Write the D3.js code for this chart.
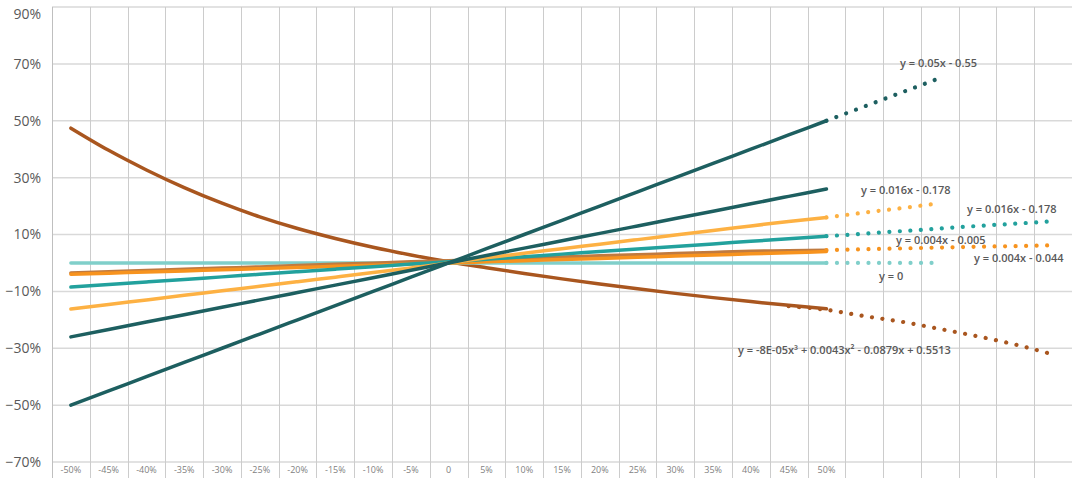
<!DOCTYPE html>
<html>
<head>
<meta charset="utf-8">
<script src="https://cdnjs.cloudflare.com/ajax/libs/d3/7.8.5/d3.min.js"></script>
<style>
	html, body { margin: 0; padding: 0; background: #fff; }
	svg { display: block; }
	.ylab { font-family: "Open Sans", sans-serif; font-size: 14px; fill: #595959; }
	.xlab { font-family: "Open Sans", sans-serif; font-size: 9px; fill: #7f7f7f; }
	.eq { font-family: "Open Sans", sans-serif; font-size: 11px; font-weight: 600; fill: #595959; }
</style>
</head>
<body>
<div id="chart"></div>
<script>
'use strict';

// categories shown on the axis, then 6 empty slots used by the forecasts
var xLabels = ["-50%", "-45%", "-40%", "-35%", "-30%", "-25%", "-20%", "-15%", "-10%", "-5%", "0",
	"5%", "10%", "15%", "20%", "25%", "30%", "35%", "40%", "45%", "50%"];
var forecastSlots = 6;

var yTicks = [-0.7, -0.5, -0.3, -0.1, 0.1, 0.3, 0.5, 0.7, 0.9];

// series values (category 1..21)
var brown = [0.474, 0.396, 0.327, 0.265, 0.210, 0.162, 0.121, 0.086, 0.055, 0.028, 0.004,
	-0.017, -0.037, -0.056, -0.074, -0.091, -0.107, -0.122, -0.136, -0.149, -0.161];
var lightTeal = [0, 0, 0, 0, 0, 0, 0, 0, 0, 0, 0, 0, 0, 0, 0, 0, 0, 0, 0, 0, 0];
var brownOrange = [-0.035, -0.031, -0.027, -0.022, -0.018, -0.014, -0.009, -0.005, -0.001, 0.004, 0.008,
	0.012, 0.017, 0.021, 0.025, 0.029, 0.033, 0.037, 0.041, 0.043, 0.045];
var orange = [-0.04, -0.036, -0.032, -0.028, -0.024, -0.02, -0.016, -0.012, -0.008, -0.004, 0,
	0.004, 0.008, 0.012, 0.016, 0.02, 0.024, 0.028, 0.032, 0.036, 0.04];
var teal = [-0.085, -0.076, -0.067, -0.058, -0.049, -0.04, -0.031, -0.022, -0.013, -0.004, 0.004,
	0.013, 0.022, 0.031, 0.04, 0.049, 0.058, 0.067, 0.076, 0.085, 0.094];
var lightOrange = [-0.162, -0.146, -0.13, -0.114, -0.098, -0.082, -0.066, -0.05, -0.034, -0.018, 0,
	0.018, 0.034, 0.05, 0.066, 0.082, 0.098, 0.114, 0.13, 0.146, 0.16];
var darkTeal2 = [-0.26, -0.234, -0.208, -0.182, -0.156, -0.13, -0.104, -0.078, -0.052, -0.026, 0,
	0.026, 0.052, 0.078, 0.104, 0.13, 0.156, 0.182, 0.208, 0.234, 0.26];
var darkTeal = [-0.5, -0.45, -0.4, -0.35, -0.3, -0.25, -0.2, -0.15, -0.1, -0.05, 0,
	0.05, 0.1, 0.15, 0.2, 0.25, 0.3, 0.35, 0.4, 0.45, 0.5];

// trendline tails (dotted), first value sits on category trendStart
var brownTrendStart = 20;
var brownTrend = [-0.152, -0.165, -0.187, -0.207, -0.232, -0.258, -0.287, -0.322];
var darkTealTrend = [0.5, 0.55, 0.6, 0.65];
var lightOrangeTrend = [0.16, 0.177, 0.193, 0.21];
var lightTealTrend = [0, 0, 0, 0];
var tealTrend = [0.094, 0.103, 0.112, 0.121, 0.13, 0.138, 0.147];
var orangeTrend = [0.045, 0.048, 0.051, 0.054, 0.057, 0.059, 0.062];

var equations = ["y = 0.05x - 0.55", "y = 0.016x - 0.178", "y = 0.016x - 0.178",
	"y = 0.004x - 0.005", "y = 0.004x - 0.044", "y = 0",
	"y = -8E-05x\u00B3 + 0.0043x\u00B2 - 0.0879x + 0.5513"];

(function(){

	var W = 1079, H = 478;
	var left = 52, right = 1072, top = 7, bottom = 462;

	var svg = d3.select("#chart").append("svg")
		.attr("width", W)
		.attr("height", H);

	var nCats = xLabels.length + forecastSlots;

	var x = d3.scaleBand()
		.domain(d3.range(nCats))
		.range([left, right])
		.paddingInner(0)
		.paddingOuter(0);

	var y = d3.scaleLinear()
		.domain([-0.7, 0.9])
		.range([bottom, top]);

	function cx(i){ return x(i) + x.bandwidth() / 2; }

	// horizontal grid
	svg.append("g")
		.selectAll("line")
		.data(yTicks)
		.enter().append("line")
		.attr("x1", left)
		.attr("x2", right)
		.attr("y1", function(d){ return y(d); })
		.attr("y2", function(d){ return y(d); })
		.style("stroke", "#d9d9d9")
		.style("stroke-width", 1.5);

	// vertical grid, runs down through the label row
	svg.append("g")
		.selectAll("line")
		.data(d3.range(nCats))
		.enter().append("line")
		.attr("x1", function(d){ return Math.round(x(d)) + 0.5; })
		.attr("x2", function(d){ return Math.round(x(d)) + 0.5; })
		.attr("y1", top)
		.attr("y2", H)
		.style("stroke", function(d){ return d === 0 ? "#bfbfbf" : "#cccccc"; })
		.style("stroke-width", 1);

	// y labels
	var fmt = d3.format(".0%");
	svg.append("g")
		.selectAll("text")
		.data(yTicks)
		.enter().append("text")
		.attr("class", "ylab")
		.attr("x", 41)
		.attr("y", function(d){ return Math.max(y(d), 14); })
		.attr("dy", "0.35em")
		.attr("text-anchor", "end")
		.text(function(d){ return fmt(d); });

	// x labels
	var xAxis = d3.axisBottom(x)
		.tickSize(0)
		.tickPadding(0)
		.tickFormat(function(i){ return xLabels[i] || ""; });

	var xg = svg.append("g")
		.attr("transform", "translate(0," + bottom + ")")
		.call(xAxis);
	xg.select(".domain").remove();
	xg.selectAll("text")
		.attr("class", "xlab")
		.attr("y", 8)
		.attr("dy", "0.35em")
		.attr("fill", null);

	// series
	var series = [
		{ v: brown, c: "#a9561f" },
		{ v: lightTeal, c: "#80cfca" },
		{ v: brownOrange, c: "#c07a3f" },
		{ v: orange, c: "#f7931e" },
		{ v: teal, c: "#22a19d" },
		{ v: lightOrange, c: "#fdb143" },
		{ v: darkTeal2, c: "#1d5f60" },
		{ v: darkTeal, c: "#1d5f60" }
	];

	var line = d3.line()
		.curve(d3.curveMonotoneX)
		.x(function(d, i){ return cx(i); })
		.y(function(d){ return y(d); });

	svg.append("g")
		.selectAll("path")
		.data(series)
		.enter().append("path")
		.attr("d", function(s){ return line(s.v); })
		.style("fill", "none")
		.style("stroke", function(s){ return s.c; })
		.style("stroke-width", 3.5)
		.style("stroke-linecap", "round")
		.style("stroke-linejoin", "round");

	// dotted trendline tails
	var trends = [
		{ v: brownTrend, s: brownTrendStart, c: "#a9561f" },
		{ v: darkTealTrend, s: 21, c: "#1d5f60" },
		{ v: lightOrangeTrend, s: 21, c: "#fdb143" },
		{ v: lightTealTrend, s: 21, c: "#80cfca" },
		{ v: tealTrend, s: 21, c: "#22a19d" },
		{ v: orangeTrend, s: 21, c: "#f7931e" }
	];

	svg.append("g")
		.selectAll("path")
		.data(trends)
		.enter().append("path")
		.attr("d", function(t){
			return d3.line()
				.curve(d3.curveMonotoneX)
				.x(function(d, i){ return cx(t.s - 1 + i); })
				.y(function(d){ return y(d); })(t.v);
		})
		.style("fill", "none")
		.style("stroke", function(t){ return t.c; })
		.style("stroke-width", 4.2)
		.style("stroke-linecap", "round")
		.style("stroke-dasharray", "0.01 10.5");

	// equation labels
	var eqPos = [[900, 63], [861, 190], [967, 209], [896, 240], [974, 258], [879, 276], [738, 350]];
	svg.append("g")
		.selectAll("text")
		.data(equations)
		.enter().append("text")
		.attr("class", "eq")
		.attr("x", function(d, i){ return eqPos[i][0]; })
		.attr("y", function(d, i){ return eqPos[i][1]; })
		.attr("dy", "0.35em")
		.text(function(d){ return d; });

})();
</script>
</body>
</html>
